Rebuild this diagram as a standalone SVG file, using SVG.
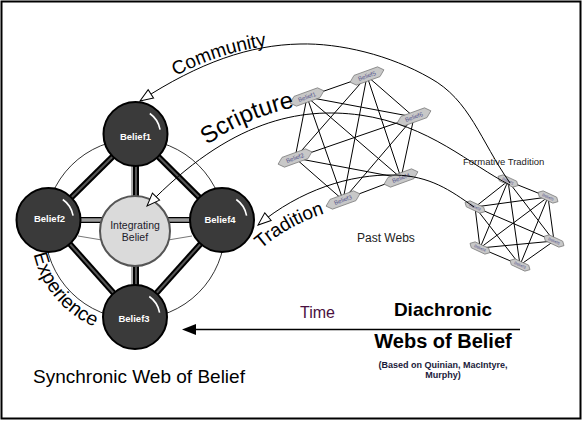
<svg xmlns="http://www.w3.org/2000/svg" width="583" height="421" viewBox="0 0 583 421">
<defs>
<style>
.f{font-family:"Liberation Sans",Arial,sans-serif}
.thick{stroke:#000;stroke-width:6;fill:none}
.thin-in{stroke:#555;stroke-width:2;fill:none}
.dk{fill:#3a3a3a;stroke:#000;stroke-width:2}
.hl{fill:none;stroke:#fff;stroke-width:1.6}
.lbl{font-family:"Liberation Sans",Arial,sans-serif;font-size:9.5px;font-weight:bold;fill:#fff;text-anchor:middle}
.pw{fill:#c8c8c8;stroke:#777;stroke-width:0.7}
.pwl{font-family:"Liberation Sans",Arial,sans-serif;font-size:6px;fill:#50508a;text-anchor:middle}
.pwl2{font-family:"Liberation Sans",Arial,sans-serif;font-size:4px;fill:#50508a;text-anchor:middle}
.edge{stroke:#000;stroke-width:1;fill:none}
.arc{stroke:#000;stroke-width:1;fill:none;marker-end:url(#hollow)}
</style>
<marker id="hollow" markerUnits="userSpaceOnUse" markerWidth="15" markerHeight="12" viewBox="-1 -1 15 12" refX="13" refY="5" orient="auto">
<path d="M0,0 L13,5 L0,10 Z" fill="#fff" stroke="#000" stroke-width="1"/>
</marker>
<g id="dnode">
<circle r="32" class="dk"/>
<path class="hl" d="M14.3,-20.5 A25,25 0 0 1 24.6,-4.3"/>
</g>
<path id="pwshape" d="M-18,0 L-12,-5 L13,-5 L18,0 L12,5 L-13,5 Z"/>
<path id="ftshape" d="M-11,0 L-7,-3.5 L8,-3.5 L11,0 L7,3.5 L-8,3.5 Z"/>
<path id="p-comm" d="M176,76 Q219,52 278,44"/>
<path id="p-scr" d="M207,145 Q249,115 306,105"/>
<path id="p-trad" d="M261,249 Q292,222 336,210"/>
<path id="p-exp" d="M33.7,254.4 A104,104 0 0 0 125.9,334.6"/>
</defs>

<rect x="1.5" y="1.5" width="579" height="417" fill="#fff" stroke="#000" stroke-width="2"/>

<g id="web-connectors">
<circle cx="135" cy="229" r="90" fill="none" stroke="#000" stroke-width="0.8"/>
<line class="thick" x1="135.5" y1="134" x2="48.5" y2="220"/>
<line class="thin-in" x1="135.5" y1="134" x2="48.5" y2="220"/>
<line class="thick" x1="135.5" y1="134" x2="222" y2="220"/>
<line class="thin-in" x1="135.5" y1="134" x2="222" y2="220"/>
<line class="thick" x1="48.5" y1="220" x2="135" y2="317"/>
<line class="thin-in" x1="48.5" y1="220" x2="135" y2="317"/>
<line class="thick" x1="222" y1="220" x2="135" y2="317"/>
<line class="thin-in" x1="222" y1="220" x2="135" y2="317"/>
<line x1="132" y1="160" x2="132" y2="300" stroke="#aaa" stroke-width="2"/>
<line class="thick" x1="136" y1="160" x2="136" y2="300"/>
<line class="thin-in" x1="136" y1="160" x2="136" y2="300"/>
<line x1="75" y1="220" x2="200" y2="220" stroke="#000" stroke-width="6"/>
<line x1="75" y1="220" x2="200" y2="220" stroke="#9a9a9a" stroke-width="3.5"/>
<line x1="78" y1="236" x2="102" y2="240" stroke="#777" stroke-width="1"/>
<line x1="168" y1="240" x2="192" y2="236" stroke="#777" stroke-width="1"/>
</g>

<g id="belief1"><use href="#dnode" x="135.5" y="134"/><text class="lbl" x="135.5" y="139.5">Belief1</text></g>
<g id="belief2"><use href="#dnode" x="48.5" y="220"/><text class="lbl" x="49.5" y="222">Belief2</text></g>
<g id="belief4"><use href="#dnode" x="222" y="220"/><text class="lbl" x="220" y="223">Belief4</text></g>
<g id="belief3"><use href="#dnode" x="135" y="317"/><text class="lbl" x="134" y="322">Belief3</text></g>
<g id="integrating">
<circle cx="135" cy="231" r="35" fill="#dadada" stroke="#555" stroke-width="2"/>
<text class="f" x="135" y="229" font-size="10.5" fill="#1a1a2a" text-anchor="middle">Integrating</text>
<text class="f" x="135" y="241" font-size="10.5" fill="#1a1a2a" text-anchor="middle">Belief</text>
</g>

<g id="past-edges" class="edge">
<path d="M307,97 L367,76 M307,97 L414,117 M307,97 L295,158 M307,97 L401,178 M307,97 L343,200
M367,76 L414,117 M367,76 L295,158 M367,76 L401,178 M367,76 L343,200
M414,117 L295,158 M414,117 L401,178 M414,117 L343,200
M295,158 L401,178 M295,158 L343,200 M401,178 L343,200"/>
</g>
<g id="formative-edges" class="edge">
<path d="M508,181 L548,197 M508,181 L475,207 M508,181 L554,241 M508,181 L480,248 M508,181 L520,265
M548,197 L475,207 M548,197 L554,241 M548,197 L480,248 M548,197 L520,265
M475,207 L554,241 M475,207 L480,248 M475,207 L520,265
M554,241 L480,248 M554,241 L520,265 M480,248 L520,265"/>
</g>

<g id="pw-a" transform="translate(307,97) rotate(-20)"><use href="#pwshape" class="pw"/><text class="pwl" y="2">Belief1</text></g>
<g id="pw-b" transform="translate(367,76) rotate(-20)"><use href="#pwshape" class="pw"/><text class="pwl" y="2">Belief5</text></g>
<g id="pw-c" transform="translate(414,117) rotate(-20)"><use href="#pwshape" class="pw"/><text class="pwl" y="2">Belief6</text></g>
<g id="pw-d" transform="translate(295,158) rotate(-20)"><use href="#pwshape" class="pw"/><text class="pwl" y="2">Belief2</text></g>
<g id="pw-e" transform="translate(401,178) rotate(-20)"><use href="#pwshape" class="pw"/><text class="pwl" y="2">Belief4</text></g>
<g id="pw-f" transform="translate(343,200) rotate(-20)"><use href="#pwshape" class="pw"/><text class="pwl" y="2">Belief3</text></g>

<g id="ft-p" transform="translate(508,181) rotate(25)"><use href="#ftshape" class="pw"/><text class="pwl2" y="1.4">Belief1</text></g>
<g id="ft-q" transform="translate(548,197) rotate(25)"><use href="#ftshape" class="pw"/><text class="pwl2" y="1.4">Belief5</text></g>
<g id="ft-r" transform="translate(475,207) rotate(25)"><use href="#ftshape" class="pw"/><text class="pwl2" y="1.4">Belief2</text></g>
<g id="ft-s" transform="translate(554,241) rotate(25)"><use href="#ftshape" class="pw"/><text class="pwl2" y="1.4">Belief6</text></g>
<g id="ft-t" transform="translate(480,248) rotate(25)"><use href="#ftshape" class="pw"/><text class="pwl2" y="1.4">Belief4</text></g>
<g id="ft-u" transform="translate(520,265) rotate(25)"><use href="#ftshape" class="pw"/><text class="pwl2" y="1.4">Belief3</text></g>

<g id="influences">
<path class="arc" d="M510,183 C480,140 470,100 430,78 C390,55 340,43 300,44 C250,45 200,62 140,101"/>
<path class="arc" d="M510,185 C470,165 430,125 360,115 C300,107 230,120 147,206"/>
<path class="arc" d="M474,207 C450,190 430,176 395,175 C350,174 300,190 258,225"/>
<line x1="520" y1="329.5" x2="192" y2="329.5" stroke="#000" stroke-width="1.5"/>
<polygon points="182,329.5 196,324 196,335" fill="#000"/>
</g>

<g id="labels" class="f">
<text font-size="19" fill="#000"><textPath href="#p-comm">Community</textPath></text>
<text font-size="24" fill="#000"><textPath href="#p-scr">Scripture</textPath></text>
<text font-size="19" fill="#000"><textPath href="#p-trad">Tradition</textPath></text>
<text font-size="19.5" fill="#000"><textPath href="#p-exp">Experience</textPath></text>
<text x="463" y="165" font-size="9.5" fill="#222">Formative Tradition</text>
<text x="357" y="242" font-size="12" fill="#222">Past Webs</text>
<text x="300" y="318" font-size="16" fill="#4a1040">Time</text>
<text x="443" y="316" font-size="19" font-weight="bold" text-anchor="middle">Diachronic</text>
<text x="443" y="348" font-size="20" font-weight="bold" text-anchor="middle">Webs of Belief</text>
<text x="443" y="368" font-size="9" font-weight="bold" fill="#1a1a3a" text-anchor="middle">(Based on Quinian, MacIntyre,</text>
<text x="443" y="378" font-size="9" font-weight="bold" fill="#1a1a3a" text-anchor="middle">Murphy)</text>
<text x="33" y="383" font-size="19">Synchronic Web of Belief</text>
</g>
</svg>
